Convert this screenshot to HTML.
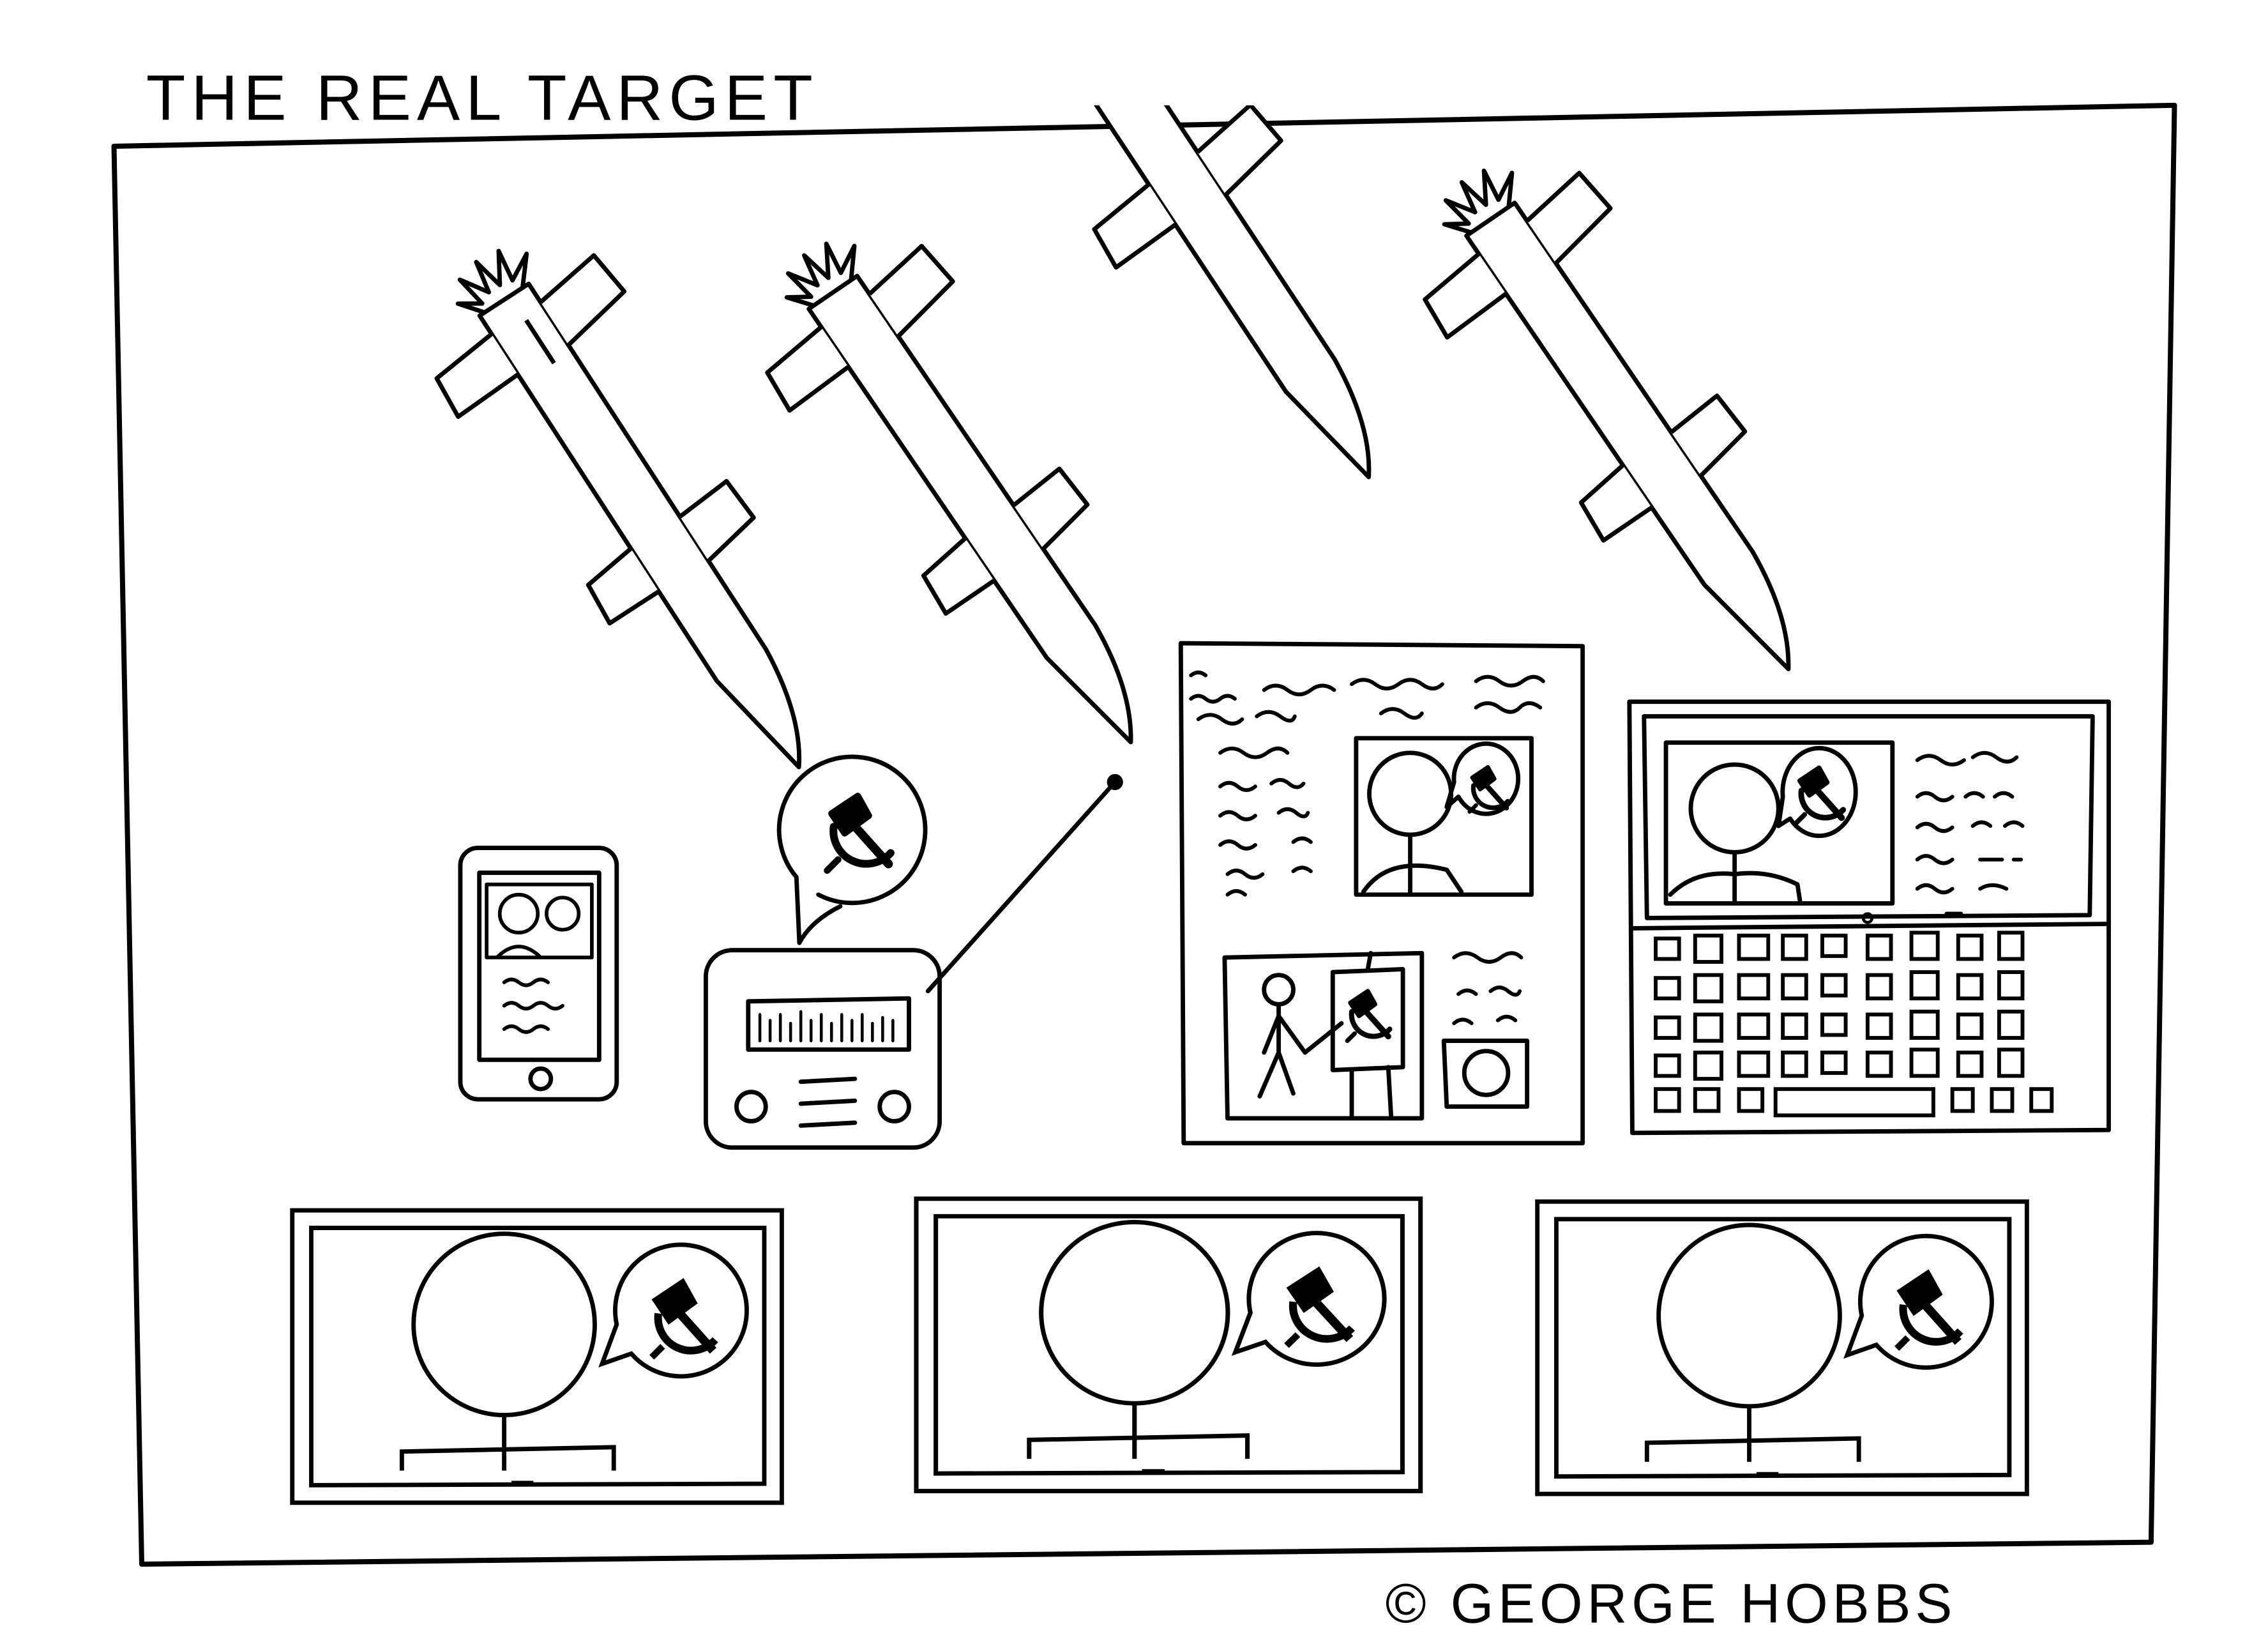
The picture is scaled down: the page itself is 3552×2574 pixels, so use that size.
<!DOCTYPE html>
<html><head><meta charset="utf-8"><style>
html,body{margin:0;padding:0;background:#fff;}
svg{display:block;}
text{font-family:"Liberation Sans",sans-serif;}
</style></head><body>
<svg width="3552" height="2574" viewBox="0 0 1552 1124.6" xmlns="http://www.w3.org/2000/svg">
<defs>
<symbol id="hs" viewBox="-20 -20 40 40" overflow="visible">
 <path d="M-13,-3 A15,15 0 0 0 13,9" fill="none" stroke="#000" stroke-width="3.5"/>
 <path d="M12,14 L-5,-5" stroke="#000" stroke-width="4"/>
 <path d="M-14,-9 L-2,-17 L3,-8 L-8,0 Z" fill="#000"/>
 <path d="M-11,12 L-16,17" stroke="#000" stroke-width="3"/>
</symbol>
<path id="sq" d="M0,4 q4,-6 8,-2 t8,0 t8,0 t8,0" fill="none" stroke="#000" stroke-width="2.6" stroke-linecap="round"/>
<g id="tv" fill="none" stroke="#000" stroke-width="3">
 <path d="M0,0 L335,0 L335,200 L0,200 Z"/>
 <path d="M13,12 L323,12 L323,187 L13,188 Z"/>
 <circle cx="145" cy="78" r="62"/>
 <path d="M145,140 L145,178 M75,178 L75,165 L220,162 L220,178"/>
 <path d="M212,105 L232,98 A45,45 0 1 0 222,78 Z"/>
 <use href="#hs" x="240" y="45" width="60" height="60"/>
 <path d="M150,186 L165,186" stroke-width="2"/>
</g>
<clipPath id="clipTop"><rect x="0" y="72" width="1552" height="1100"/></clipPath>
</defs>

<text x="100" y="82" font-size="44" letter-spacing="4" fill="#000">THE REAL TARGET</text>

<path d="M78,100 L1488,72 L1472,1055 L97,1070 Z" fill="none" stroke="#000" stroke-width="3.5" stroke-linejoin="round"/>

<g fill="#fff" stroke="#000" stroke-width="3" stroke-linejoin="round" clip-path="url(#clipTop)">
 <g transform="translate(345,205) rotate(57)">
  <path d="M0,-20 L298,-20 Q350,-16 378,5 L298,20 L0,20 Z"/>
  <path d="M15,-20 L8,-68 L40,-72 L50,-20 M15,20 L20,68 L50,70 L48,20"/>
  <path d="M190,-20 L187,-60 L218,-62 L226,-20 M190,20 L195,58 L225,60 L225,20"/>
  <path d="M0,-15 L-18,-30 L-8,-12 L-30,-15 L-10,-3 L-32,2 L-10,6 L-28,18 L-6,14 L-15,28 L0,16" fill="none"/>
  <path d="M20,-5 L55,-5" fill="none"/>
 </g>
 <g transform="translate(570,200) rotate(55.7)">
  <path d="M0,-20 L289,-20 Q340,-16 369,5 L289,20 L0,20 Z"/>
  <path d="M15,-20 L8,-68 L40,-72 L50,-20 M15,20 L20,68 L50,70 L48,20"/>
  <path d="M190,-20 L187,-60 L218,-62 L226,-20 M190,20 L195,58 L225,60 L225,20"/>
  <path d="M0,-15 L-18,-30 L-8,-12 L-30,-15 L-10,-3 L-32,2 L-10,6 L-28,18 L-6,14 L-15,28 L0,16" fill="none"/>
 </g>
 <g transform="translate(720,-10) rotate(56.5)">
  <path d="M0,-20 L320,-20 Q372,-16 400,5 L320,20 L0,20 Z"/>
  <path d="M150,-20 L143,-68 L175,-72 L185,-20 M150,20 L155,68 L185,70 L183,20"/>
 </g>
 <g transform="translate(1020,150) rotate(55.7)">
  <path d="M0,-20 L289,-20 Q340,-16 369,5 L289,20 L0,20 Z"/>
  <path d="M15,-20 L8,-68 L40,-72 L50,-20 M15,20 L20,68 L50,70 L48,20"/>
  <path d="M190,-20 L187,-60 L218,-62 L226,-20 M190,20 L195,58 L225,60 L225,20"/>
  <path d="M0,-15 L-18,-30 L-8,-12 L-30,-15 L-10,-3 L-32,2 L-10,6 L-28,18 L-6,14 L-15,28 L0,16" fill="none"/>
 </g>
</g>

<g fill="none" stroke="#000" stroke-width="3" stroke-linejoin="round" stroke-linecap="round">
 <path d="M560,612 A50,50 0 1 0 545,600 L547,645 Q555,630 575,620"/>
 <use href="#hs" x="560" y="540" width="60" height="60"/>
 <rect x="315" y="580" width="107" height="172" rx="12"/>
 <path d="M328,597 L410,597 L410,725 L328,725 Z"/>
 <circle cx="370" cy="738" r="7"/>
 <path d="M333,605 L405,605 L405,655 L333,655 Z" stroke-width="2.5"/>
 <circle cx="355" cy="625" r="13" stroke-width="2.5"/>
 <circle cx="385" cy="625" r="11" stroke-width="2.5"/>
 <path d="M340,655 Q355,640 370,655" stroke-width="2.5"/>
 <path d="M345,672 q5,-4 10,0 t10,0 t10,0 M345,688 q5,-4 10,0 t10,0 t10,0 t10,0 M345,704 q5,-4 10,0 t10,0 t10,0" stroke-width="2.5"/>
 <rect x="483" y="650" width="160" height="135" rx="18"/>
 <path d="M512,685 L622,683 L622,718 L512,718 Z"/>
 <path d="M520,712 l0,-18 M527,712 l0,-14 M534,712 l0,-18 M541,712 l0,-12 M548,712 l0,-20 M555,712 l0,-14 M562,712 l0,-18 M569,712 l0,-12 M576,712 l0,-18 M583,712 l0,-14 M590,712 l0,-18 M597,712 l0,-12 M604,712 l0,-16 M611,712 l0,-14" stroke-width="2"/>
 <circle cx="514" cy="757" r="10"/><circle cx="612" cy="757" r="10"/>
 <path d="M548,740 L585,738 M548,755 L585,753 M548,770 L585,768"/>
 <path d="M635,678 L763,535"/>
 <circle cx="763" cy="535" r="4" fill="#000"/>
 <path d="M808,440 L1083,442 L1083,782 L810,782 Z"/>
 <path d="M928,505 L1048,505 L1048,612 L928,612 Z"/>
 <circle cx="965" cy="543" r="28"/>
 <path d="M965,571 L965,612 M933,610 Q950,585 990,595 L1000,610"/>
 <path d="M990,552 L998,545 A22,24 0 1 0 995,535 Z"/>
 <use href="#hs" x="1002" y="522" width="36" height="36"/>
 <path d="M838,655 L973,652 L973,765 L840,765 Z"/>
 <circle cx="875" cy="677" r="10"/>
 <path d="M875,687 L875,720 L862,750 M875,720 L885,748 M875,695 L865,720 M875,695 L893,720 L918,700"/>
 <path d="M912,665 L960,663 L960,730 L912,732 Z"/>
 <path d="M925,732 L925,765 M950,730 L952,765 M936,663 L938,652"/>
 <use href="#hs" x="918" y="675" width="40" height="40"/>
 <path d="M988,712 L1045,712 L1045,757 L990,757 Z"/>
 <circle cx="1017" cy="734" r="15"/>
 <path d="M815,462 q5,-4 10,0 M815,478 q5,-4 10,0 t10,0 t10,0 M865,472 q8,-6 16,0 t16,0 t16,0 M925,468 q8,-6 16,0 t16,0 t16,0 t14,0 M1010,466 q8,-6 16,0 t16,0 t14,0 M820,492 q8,-6 16,0 t14,0 M860,490 q8,-6 16,0 t10,0 M945,488 q8,-6 16,0 t12,0 M1010,484 q8,-6 16,0 t14,0 t14,0" stroke-width="2.6"/>
 <path d="M835,515 q8,-6 16,0 t16,0 t14,0 M835,538 q6,-5 12,0 t12,0 M870,536 q6,-5 12,0 t10,0 M835,558 q6,-5 12,0 t12,0 M875,556 q6,-5 12,0 t8,0 M835,578 q6,-5 12,0 t12,0 M885,576 q6,-5 12,0 M840,598 q6,-5 12,0 t12,0 M885,596 q6,-5 12,0 M840,612 q6,-5 12,0" stroke-width="2.6"/>
 <path d="M995,655 q8,-6 16,0 t16,0 t14,0 M998,680 q6,-5 12,0 M1020,678 q6,-5 12,0 t8,0 M995,700 q6,-5 12,0 M1025,698 q6,-5 12,0" stroke-width="2.6"/>
 <path d="M1115,480 L1443,480 L1443,773 L1117,775 Z"/>
 <path d="M1125,490 L1432,490 L1430,626 L1127,628 Z"/>
 <path d="M1117,635 L1443,632"/>
 <path d="M1140,508 L1295,508 L1295,618 L1140,618 Z"/>
 <circle cx="1187" cy="553" r="30"/>
 <path d="M1187,583 L1187,618 M1143,612 Q1160,595 1187,598 Q1210,595 1230,605 L1232,618"/>
 <path d="M1217,565 L1225,560 A25,30 0 1 0 1220,545 Z"/>
 <use href="#hs" x="1225" y="522" width="44" height="44"/>
 <path d="M1312,520 q8,-6 16,0 t16,0 M1350,518 q8,-6 16,0 t14,0 M1312,545 q6,-5 12,0 t12,0 M1345,545 q6,-5 12,0 M1365,545 q6,-5 12,0 M1312,566 q6,-5 12,0 t12,0 M1350,565 q6,-5 12,0 M1372,565 q6,-5 12,0 M1312,588 q6,-5 12,0 t12,0 M1355,588 l15,0 M1378,588 l5,0 M1312,608 q6,-5 12,0 t12,0 M1355,608 q8,-5 18,0 M1332,625 l10,0" stroke-width="2.6"/>
 <circle cx="1278" cy="628" r="3" stroke-width="2"/>
</g>
<g fill="none" stroke="#000" stroke-width="2.6">
 <g id="krow">
  <rect x="1133" y="642" width="16" height="14"/><rect x="1160" y="640" width="18" height="18"/><rect x="1190" y="640" width="20" height="16"/><rect x="1220" y="640" width="16" height="16"/><rect x="1247" y="640" width="16" height="14"/><rect x="1278" y="640" width="16" height="16"/><rect x="1308" y="638" width="18" height="18"/><rect x="1340" y="640" width="16" height="16"/><rect x="1368" y="638" width="16" height="18"/>
 </g>
 <use href="#krow" y="27"/><use href="#krow" y="54"/><use href="#krow" y="80"/>
 <rect x="1133" y="745" width="16" height="15"/><rect x="1160" y="745" width="16" height="15"/><rect x="1190" y="745" width="16" height="15"/><rect x="1215" y="745" width="108" height="18"/><rect x="1336" y="745" width="14" height="15"/><rect x="1363" y="745" width="14" height="15"/><rect x="1390" y="745" width="14" height="15"/>
</g>

<use href="#tv" x="200" y="828"/>
<use href="#tv" x="627" y="820" transform="translate(627,820) scale(1.03,1) translate(-627,-820)"/>
<use href="#tv" x="1052" y="822"/>

<text x="948" y="1110" font-size="38" letter-spacing="3" fill="#000">© GEORGE HOBBS</text>
</svg>
</body></html>
